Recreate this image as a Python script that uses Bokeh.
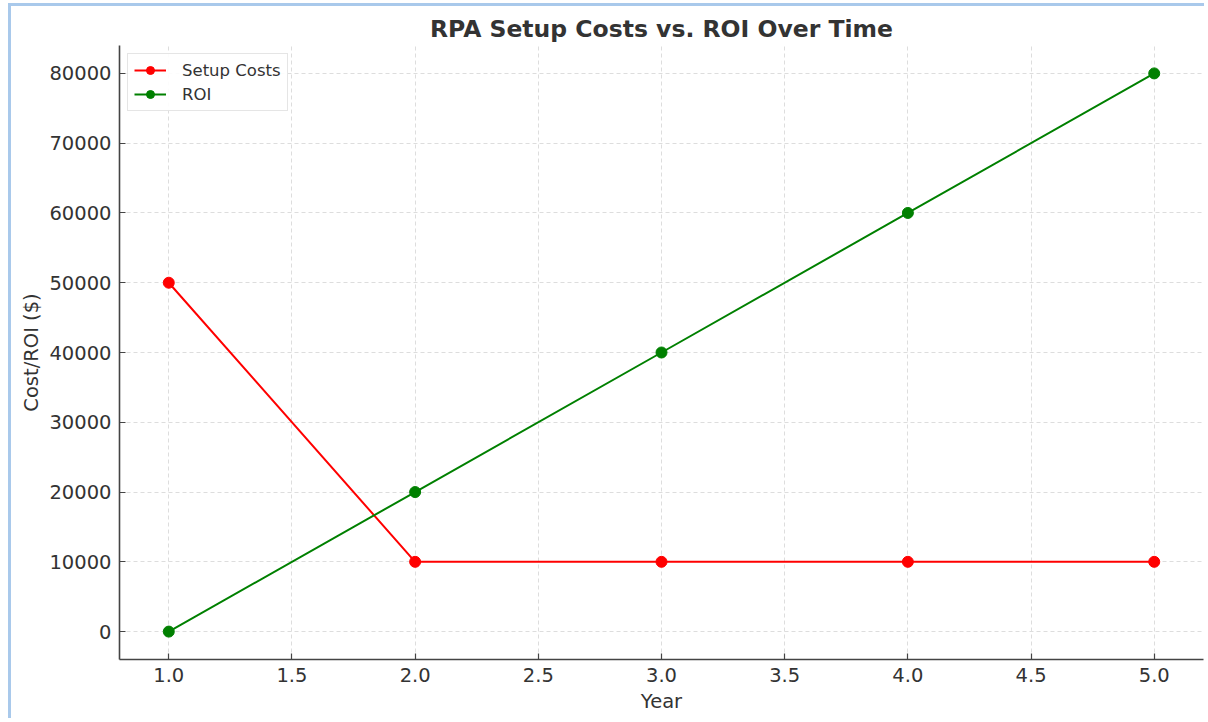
from bokeh.plotting import figure
from bokeh.embed import file_html
from bokeh.resources import INLINE
from bokeh.models import Legend, LegendItem, FixedTicker, Range1d

years = [1, 2, 3, 4, 5]
setup_costs = [50000, 10000, 10000, 10000, 10000]
roi = [0, 20000, 40000, 60000, 80000]
x_ticks = [1.0, 1.5, 2.0, 2.5, 3.0, 3.5, 4.0, 4.5, 5.0]
y_ticks = [0, 10000, 20000, 30000, 40000, 50000, 60000, 70000, 80000]

FONT = "DejaVu Sans"
TXT = "#333333"

p = figure(width=1196, height=715, output_backend="svg", toolbar_location=None,
           x_range=Range1d(0.8, 5.2), y_range=Range1d(-4000, 84000),
           min_border_left=108, min_border_right=4, min_border_top=39,
           min_border_bottom=62)
p.styles = {"border-left": "3px solid #a9c9eb", "border-top": "3px solid #a9c9eb",
            "margin-left": "8px", "margin-top": "3px"}

p.title.text = "RPA Setup Costs vs. ROI Over Time"
p.title.align = "center"
p.title.text_font = FONT
p.title.text_font_size = "23.5px"
p.title.text_font_style = "bold"
p.title.text_color = TXT
p.title.offset = 0
p.title.standoff = 5

p.outline_line_color = None
for ax in (p.xaxis[0], p.yaxis[0]):
    ax.axis_line_color = "#444444"
    ax.axis_line_width = 1.6
    ax.major_tick_in = 6
    ax.major_tick_out = 0
    ax.major_tick_line_color = "#444444"
    ax.major_tick_line_width = 1.2
    ax.minor_tick_line_color = None
    ax.major_label_text_font = FONT
    ax.major_label_text_font_size = "19.5px"
    ax.major_label_text_color = TXT
    ax.axis_label_text_font = FONT
    ax.axis_label_text_font_size = "19.5px"
    ax.axis_label_text_font_style = "normal"
    ax.axis_label_text_color = TXT

p.xaxis[0].ticker = FixedTicker(ticks=x_ticks)
p.xaxis[0].major_label_overrides = {t: f"{t:.1f}" for t in x_ticks}
p.xaxis[0].axis_label = "Year"
p.xaxis[0].major_label_standoff = 8
p.xaxis[0].axis_label_standoff = 5
p.yaxis[0].ticker = FixedTicker(ticks=y_ticks)
p.yaxis[0].formatter.use_scientific = False
p.yaxis[0].axis_label = "Cost/ROI ($)"
p.yaxis[0].major_label_standoff = 8
p.yaxis[0].axis_label_standoff = 3

for g in (p.xgrid[0], p.ygrid[0]):
    g.grid_line_color = "#dddddd"
    g.grid_line_dash = "4 3"
    g.grid_line_width = 1

r1 = p.line(years, setup_costs, line_color="#ff0000", line_width=2)
c1 = p.scatter(years, setup_costs, size=11, fill_color="#ff0000", line_color="#ff0000")
r2 = p.line(years, roi, line_color="#008000", line_width=2)
c2 = p.scatter(years, roi, size=11, fill_color="#008000", line_color="#008000")

legend = Legend(items=[LegendItem(label="Setup Costs", renderers=[r1, c1]),
                       LegendItem(label="ROI", renderers=[r2, c2])],
                location="top_left")
legend.label_text_font = FONT
legend.label_text_font_size = "16.5px"
legend.label_text_color = TXT
legend.border_line_color = "#cccccc"
legend.border_line_width = 1
legend.background_fill_alpha = 0.9
legend.margin = 8
legend.padding = 6
legend.spacing = 4
legend.glyph_width = 32
legend.label_standoff = 16
legend.label_height = 20
legend.glyph_height = 20
p.add_layout(legend)

open("out.html", "w").write(file_html(p, INLINE))
